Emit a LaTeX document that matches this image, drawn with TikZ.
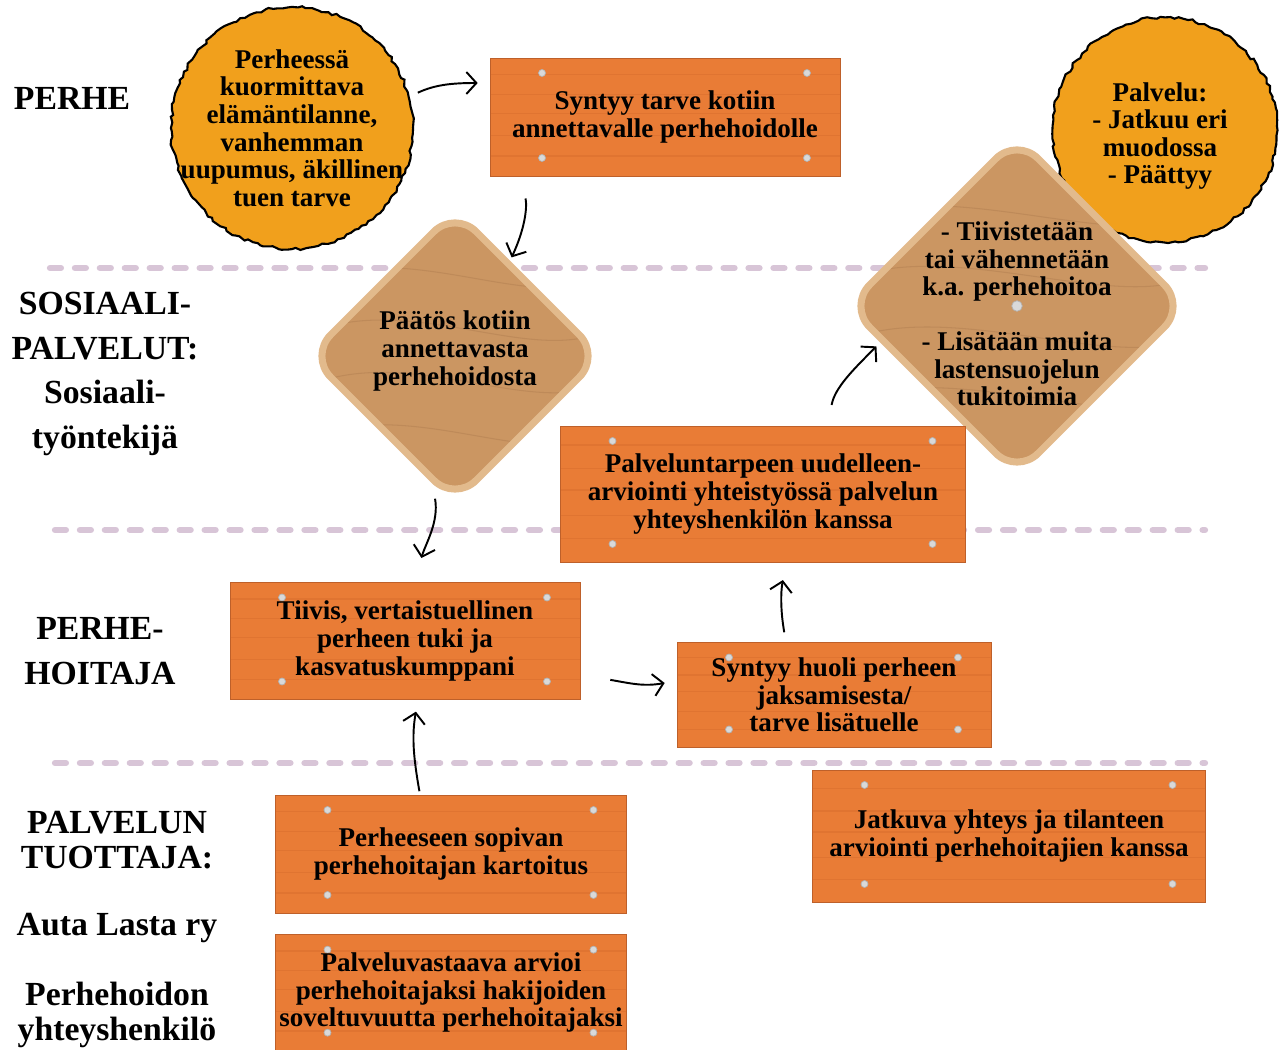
\documentclass[tikz,border=0pt]{standalone}
\usepackage{fontspec}
\setmainfont{Liberation Serif}
\usepackage{xcolor}
\usepackage{tikz}
\usetikzlibrary{shapes.geometric,arrows.meta,positioning,calc,decorations.pathmorphing}

\definecolor{plankfill}{RGB}{233,124,54}
\definecolor{plankedge}{RGB}{190,96,42}
\definecolor{grain}{RGB}{200,96,38}
\definecolor{boardfill}{RGB}{203,150,98}
\definecolor{boardedge}{RGB}{226,186,140}
\definecolor{boardgrain}{RGB}{160,112,70}
\definecolor{sunfill}{RGB}{241,160,28}
\definecolor{lanecolor}{RGB}{216,197,215}

\begin{document}
\begin{tikzpicture}[
    x=0.02cm, y=-0.02cm,
    lane/.style={align=center, font=\fontsize{19.2}{25.5}\selectfont\bfseries},
    divider/.style={draw=lanecolor, line width=3.6pt, line cap=round, dash pattern=on 6.2pt off 8pt},
    inscription/.style={align=center, inner sep=0pt, font=\fontsize{15.4}{15.7}\selectfont\bfseries},
    sun/.style={circle, draw=black, line width=1.2pt, fill=sunfill,
        decorate, decoration={random steps, segment length=2.5pt, amplitude=0.9pt}},
    board/.style={diamond, aspect=1, draw=boardedge, line width=4pt, fill=boardfill,
        rounded corners=0.6cm, inner sep=0pt,
        path picture={
            \foreach \g in {0.22,0.4,0.58,0.76}
                \draw[boardgrain, line width=0.6pt, opacity=0.3]
                    ($(path picture bounding box.south west)!\g!(path picture bounding box.north west)$)
                    .. controls +(2cm,0.8cm) and +(-1.5cm,-0.6cm) ..
                    ($(path picture bounding box.south east)!\g!(path picture bounding box.north east)$);
        }},
    screw/.style={fill=gray!30, draw=gray!60, line width=0.4pt},
    plank/.style={rectangle, draw=plankedge, fill=plankfill, align=center, inner sep=2pt,
        font=\fontsize{15.4}{15.7}\selectfont\bfseries,
        path picture={
            \foreach \g in {0.14,0.31,0.47,0.66,0.83}
                \draw[grain, line width=0.7pt, opacity=0.25]
                    ($(path picture bounding box.north west)!\g!(path picture bounding box.south west)$)
                    -- ($(path picture bounding box.north east)!\g!(path picture bounding box.south east)$);
            \foreach \sx/\sy/\corner in {1.04cm/-0.3cm/north west, -0.66cm/-0.3cm/north east,
                                         1.04cm/0.36cm/south west, -0.66cm/0.36cm/south east}
                \filldraw[screw] ([shift={(\sx,\sy)}]path picture bounding box.\corner) circle (2pt);
        }},
    flow/.style={-{Straight Barb[length=2mm, width=4.4mm]}, line width=1.1pt}
]
    \useasboundingbox (0,0) rectangle (1279,1050);

    % Lanes
    \foreach \ly/\lx in {268/50, 530/55, 763/55}
        \draw[divider] (\lx,\ly) -- (1205,\ly);
    \node[lane] (family) at (72,98) {PERHE};
    \node[lane] (social) at (105,374) {SOSIAALI-\\PALVELUT:\\Sosiaali-\\työntekijä};
    \node[lane] (carer) at (100,651) {PERHE-\\HOITAJA};
    \node[lane, font=\fontsize{19.2}{20}\selectfont\bfseries] (provider) at (117,840) {PALVELUN\\TUOTTAJA:};
    \node[lane] (org) at (117,928) {Auta Lasta ry};
    \node[lane, font=\fontsize{19.2}{20}\selectfont\bfseries] (contact) at (117,1015) {Perhehoidon\\yhteyshenkilö};

    % Family
    \node[sun, minimum size=4.84cm,
          label={[inscription]center:{Perheessä\\kuormittava\\elämäntilanne,\\vanhemman\\uupumus, äkillinen\\tuen tarve}}] (perhe) at (292,128) {};
    \node[sun, minimum size=4.5cm,
          label={[inscription, xshift=-0.1cm, yshift=-0.12cm]center:{Palvelu:\\- Jatkuu eri\\muodossa\\- Päättyy}}] (palvelu) at (1165,130) {};

    % Social services
    \node[plank, minimum width=7cm, minimum height=2.36cm] (tarve) at (665,117) {Syntyy tarve kotiin\\annettavalle perhehoidolle};
    \node[board, minimum size=5.88cm,
          label={[inscription, yshift=0.1cm]center:{Päätös kotiin\\annettavasta\\perhehoidosta}}] (paatos) at (455,356) {};
    \node[board, minimum size=6.8cm,
          label={[inscription, yshift=-0.16cm]center:{- Tiivistetään\\tai vähennetään\\k.a. perhehoitoa\\[15.7pt]- Lisätään muita\\lastensuojelun\\tukitoimia}}] (toimet) at (1017,306) {};
    \filldraw[screw] (toimet.center) circle (3pt);
    \node[plank, minimum width=8.1cm, minimum height=2.72cm] (arvio) at (763,494) {Palveluntarpeen uudelleen-\\arviointi yhteistyössä palvelun\\yhteyshenkilön kanssa};

    % Foster carer
    \node[plank, minimum width=7cm, minimum height=2.34cm] (tuki) at (405,641) {Tiivis, vertaistuellinen\\perheen tuki ja\\kasvatuskumppani};
    \node[plank, minimum width=6.28cm, minimum height=2.1cm] (huoli) at (834,695) {Syntyy huoli perheen\\jaksamisesta/\\tarve lisätuelle};

    % Provider
    \node[plank, minimum width=7.02cm, minimum height=2.36cm] (kartoitus) at (451,854) {Perheeseen sopivan\\perhehoitajan kartoitus};
    \node[plank, minimum width=7.02cm, minimum height=2.32cm, below=0.42cm of kartoitus] (arvioi) {Palveluvastaava arvioi\\perhehoitajaksi hakijoiden\\soveltuvuutta perhehoitajaksi};
    \node[plank, minimum width=7.86cm, minimum height=2.64cm] (yhteys) at (1009,836) {Jatkuva yhteys ja tilanteen\\arviointi perhehoitajien kanssa};

    % Flow
    \draw[flow, shorten <=5pt] (perhe.15) to[out=25, in=180] ([xshift=-0.24cm, yshift=0.68cm]tarve.west);
    \draw[flow, shorten <=0.45cm, shorten >=2pt] ([xshift=0.64cm]tarve.south west) to[out=-80, in=65] (paatos.60);
    \draw[flow, shorten <=0.3cm, shorten >=0.5cm] (paatos.-100) to[out=-80, in=75] ([xshift=0.2cm]tuki.north);
    \draw[flow, shorten <=2pt, shorten >=0.24cm] ([xshift=-0.62cm]kartoitus.north) to[out=100, in=-100] ([xshift=0.26cm]tuki.south);
    \draw[flow] ([shift={(0.6cm,0.4cm)}]tuki.south east) to[out=-10, in=190] ([shift={(-0.24cm,0.24cm)}]huoli.west);
    \draw[flow, shorten <=0.2cm, shorten >=0.36cm] ([xshift=-0.96cm]huoli.north) to[out=100, in=-100] ([xshift=0.46cm]arvio.south);
    \draw[flow, shorten <=0.42cm, shorten >=3pt] ([xshift=1.3cm]arvio.north) to[out=80, in=225] (toimet.195);
\end{tikzpicture}
\end{document}
